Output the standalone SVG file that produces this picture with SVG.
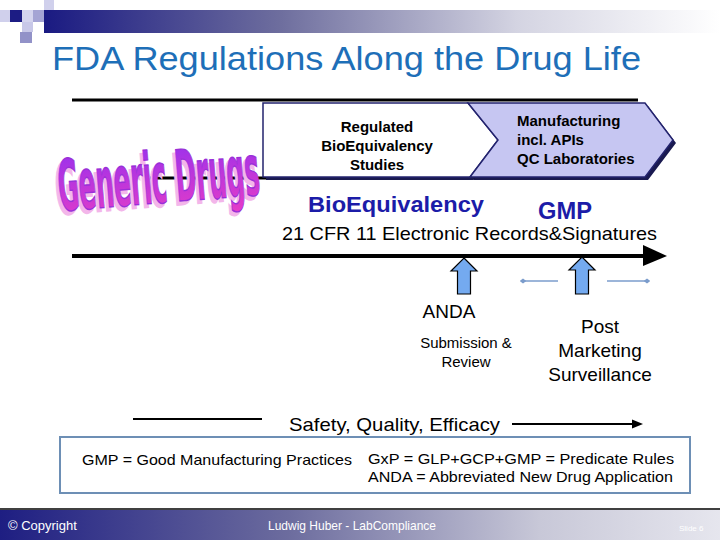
<svg xmlns="http://www.w3.org/2000/svg" width="720" height="540" viewBox="0 0 720 540">
<style>
.sans{font-family:"Liberation Sans",Arial,sans-serif}
.box{fill:#000;font-family:"Liberation Sans",Arial,sans-serif;font-size:15px;font-weight:bold}
.blue{fill:#1c1ca8;font-family:"Liberation Sans",Arial,sans-serif;font-weight:bold}
.lbl{fill:#000;font-family:"Liberation Sans",Arial,sans-serif}
.up{fill:#74aaf0;stroke:#000;stroke-width:1.2}
.thin{stroke:#7b9ccc;stroke-width:1.3;fill:none}
.foot{fill:#fff;font-family:"Liberation Sans",Arial,sans-serif}
.wa{font-family:"DejaVu Sans Condensed","DejaVu Sans",sans-serif;font-weight:bold;font-size:60px}
</style>
<defs>
<linearGradient id="hdr" x1="0" y1="0" x2="1" y2="0">
<stop offset="0" stop-color="#1a1a82"/>
<stop offset="0.35" stop-color="#6e6e9e"/>
<stop offset="0.7" stop-color="#d4d4e2"/>
<stop offset="1" stop-color="#ffffff"/>
</linearGradient>
<linearGradient id="ftr" x1="0" y1="0" x2="1" y2="0">
<stop offset="0" stop-color="#1e1e82"/>
<stop offset="0.4" stop-color="#6c6c9e"/>
<stop offset="0.75" stop-color="#c8c8d8"/>
<stop offset="1" stop-color="#e6e6ee"/>
</linearGradient>
<linearGradient id="wa" x1="0" y1="0" x2="0" y2="1">
<stop offset="0" stop-color="#9430f0"/>
<stop offset="1" stop-color="#e63cc6"/>
</linearGradient>
<marker id="mL" viewBox="0 0 6 6" refX="3" refY="3" markerWidth="5" markerHeight="5" orient="auto">
<path d="M0,3 L3,0.8 L6,3 L3,5.2 Z" fill="#7b9ccc"/>
</marker>
</defs>

<!-- header decoration -->
<g id="header">
<rect x="44" y="10" width="676" height="23" fill="url(#hdr)"/>
<rect x="0" y="10" width="10" height="12" fill="#d0d0ec"/>
<rect x="10" y="10" width="12" height="12" fill="#1c1c84"/>
<rect x="22" y="10" width="11" height="12" fill="#d4d4ee"/>
<rect x="33" y="10" width="11" height="12" fill="#a4a4d4"/>
<rect x="44" y="0" width="10" height="10" fill="#d0d0ec"/>
<rect x="22" y="22" width="11" height="10" fill="#c8c8e8"/>
<rect x="20" y="32" width="12" height="11" fill="#9292c8"/>
</g>

<text id="title" x="52" y="70" class="sans" font-size="34" fill="#1e6fb8" textLength="589" lengthAdjust="spacingAndGlyphs">FDA Regulations Along the Drug Life</text>

<g id="connectors">
<line x1="72" y1="100" x2="638" y2="100" stroke="#000" stroke-width="3"/>
<line x1="150" y1="178" x2="640" y2="178" stroke="#000" stroke-width="3"/>
<line x1="72" y1="256" x2="645" y2="256" stroke="#000" stroke-width="4"/>
<polygon points="643,245 667,256 643,266" fill="#000"/>
<line x1="558" y1="281" x2="523" y2="281" class="thin" marker-end="url(#mL)"/>
<line x1="607" y1="281" x2="647" y2="281" class="thin" marker-end="url(#mL)"/>
<line x1="133" y1="419" x2="262" y2="419" stroke="#000" stroke-width="2"/>
<line x1="512" y1="424" x2="633" y2="424" stroke="#000" stroke-width="2"/>
<polygon points="632,419.5 643,424 632,428.5" fill="#000"/>
</g>

<g id="generic-drugs">
<g transform="rotate(-4.7 60 211) translate(60 211) scale(1 1.18)">
<text x="-3" y="3" class="wa" fill="#f3b6ea" stroke="#f3b6ea" stroke-width="1.5" textLength="202" lengthAdjust="spacingAndGlyphs">Generic Drugs</text>
<text x="0" y="0" class="wa" fill="url(#wa)" stroke="#9a30d8" stroke-width="1.2" textLength="202" lengthAdjust="spacingAndGlyphs">Generic Drugs</text>
</g>
</g>

<g id="studies">
<polygon points="266,106 471,106 501,143 473,180 266,180" fill="#1a1a50"/>
<polygon points="263,103 468,103 498,140 470,177 263,177" fill="#fff" stroke="#23236e" stroke-width="1.5"/>
<text class="box" text-anchor="middle"><tspan x="377" y="132">Regulated</tspan><tspan x="377" y="151">BioEquivalency</tspan><tspan x="377" y="170">Studies</tspan></text>
</g>

<g id="manufacturing">
<polygon points="471,106 648,106 676,143 648,180 473,180 501,143" fill="#1a1a50"/>
<polygon points="468,103 645,103 673,140 645,177 470,177 498,140" fill="#c6c6f2" stroke="#23236e" stroke-width="1.5"/>
<text class="box"><tspan x="517" y="126">Manufacturing</tspan><tspan x="517" y="145">incl. APIs</tspan><tspan x="517" y="164">QC Laboratories</tspan></text>
</g>

<text id="bioeq" x="308" y="212" class="blue" font-size="22" textLength="176" lengthAdjust="spacingAndGlyphs">BioEquivalency</text>
<text id="gmp" x="538" y="219" class="blue" font-size="23" textLength="54" lengthAdjust="spacingAndGlyphs">GMP</text>
<text id="cfr" x="282" y="240" class="lbl" font-size="19" textLength="375" lengthAdjust="spacingAndGlyphs">21 CFR 11 Electronic Records&amp;Signatures</text>

<g id="anda">
<polygon class="up" points="464,258 477,271 470.5,271 470.5,294 457.5,294 457.5,271 451,271"/>
<text x="449" y="318" class="lbl" font-size="19" text-anchor="middle">ANDA</text>
<text class="lbl" font-size="15" text-anchor="middle"><tspan x="466" y="348">Submission &amp;</tspan><tspan x="466" y="367">Review</tspan></text>
</g>

<g id="pms">
<polygon class="up" points="582,257 595,270 588.5,270 588.5,294 575.5,294 575.5,270 569,270"/>
<text class="lbl" font-size="19" text-anchor="middle"><tspan x="600" y="333">Post</tspan><tspan x="600" y="357">Marketing</tspan><tspan x="600" y="381">Surveillance</tspan></text>
</g>

<text id="sqe" x="289" y="431" class="lbl" font-size="19" textLength="211" lengthAdjust="spacingAndGlyphs">Safety, Quality, Efficacy</text>

<g id="legend">
<rect x="60" y="437" width="630" height="56" fill="#fff" stroke="#6d8fb5" stroke-width="2"/>
<text x="82" y="465" class="lbl" font-size="15" textLength="270" lengthAdjust="spacingAndGlyphs">GMP = Good Manufacturing Practices</text>
<text x="368" y="464" class="lbl" font-size="15" textLength="306" lengthAdjust="spacingAndGlyphs">GxP =  GLP+GCP+GMP = Predicate Rules</text>
<text x="368" y="482" class="lbl" font-size="15" textLength="305" lengthAdjust="spacingAndGlyphs">ANDA = Abbreviated New Drug Application</text>
</g>

<g id="footer">
<rect x="0" y="510" width="720" height="30" fill="url(#ftr)"/>
<line x1="0" y1="509" x2="720" y2="509" stroke="#000" stroke-width="1.5"/>
<text x="8" y="530" class="foot" font-size="13">© Copyright</text>
<text x="268" y="530" class="foot" font-size="13" textLength="168" lengthAdjust="spacingAndGlyphs">Ludwig Huber - LabCompliance</text>
<text x="679" y="531" class="foot" font-size="8">Slide 6</text>
</g>
</svg>
